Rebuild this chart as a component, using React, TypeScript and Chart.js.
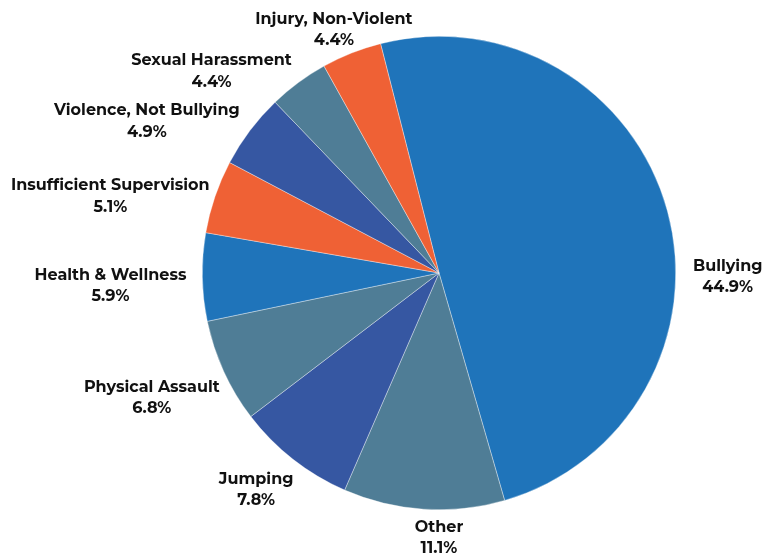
import React, { useEffect, useRef } from "react";
import { Chart, registerables } from "chart.js";

Chart.register(...registerables);

// Categories in clockwise order, starting with Bullying
const categories = [
  "Bullying",
  "Other",
  "Jumping",
  "Physical Assault",
  "Health & Wellness",
  "Insufficient Supervision",
  "Violence, Not Bullying",
  "Sexual Harassment",
  "Injury, Non-Violent",
];

// Slice sizes as drawn in the picture (wedge angles)
const sliceValues = [49.5, 11.0, 8.1, 7.1, 6.0, 5.0, 5.1, 4.1, 4.1];

// Percent text as printed on the labels
const percentLabels = ["44.9%", "11.1%", "7.8%", "6.8%", "5.9%", "5.1%", "4.9%", "4.4%", "4.4%"];

const BLUE = "#1f74ba";
const SLATE = "#4f7d96";
const NAVY = "#3657a2";
const ORANGE = "#ef6135";

const sliceColors = [BLUE, SLATE, NAVY, SLATE, BLUE, ORANGE, NAVY, SLATE, ORANGE];

// Label layout: angle (deg, clockwise from 12 o'clock) and distance beyond pie edge
const labelAngles = [90.6, 180, 220.3, 246.7, 267.9, 283.3, 297.6, 311.7, 336.7];
const labelDistances = [52, 27, 46, 76, 92, 101, 93, 68, 29];

const FONT = "bold 16px Montserrat, Inter, 'Open Sans', sans-serif";
const LINE_GAP = 21.5;

const labelPlugin = {
  id: "outerLabels",
  afterDatasetsDraw(chart: any) {
    const ctx = chart.ctx;
    const meta = chart.getDatasetMeta(0);
    ctx.save();
    ctx.font = FONT;
    ctx.fillStyle = "#111111";
    ctx.textAlign = "center";
    ctx.textBaseline = "middle";
    meta.data.forEach((arc: any, i: number) => {
      const { x, y, outerRadius } = arc.getProps(["x", "y", "outerRadius"], true);
      const a = ((labelAngles[i] - 90) * Math.PI) / 180;
      const r = outerRadius + labelDistances[i];
      const cx = x + Math.cos(a) * r;
      const cy = y + Math.sin(a) * r + 1;
      ctx.fillText(categories[i], cx, cy - LINE_GAP / 2);
      ctx.fillText(percentLabels[i], cx, cy + LINE_GAP / 2);
    });
    ctx.restore();
  },
};

export default function App() {
  const canvasRef = useRef<HTMLCanvasElement | null>(null);

  useEffect(() => {
    const canvas = canvasRef.current;
    if (!canvas) return;
    const chart = new Chart(canvas, {
      type: "pie",
      data: {
        labels: categories,
        datasets: [
          {
            data: sliceValues,
            backgroundColor: sliceColors,
            borderColor: "rgba(255,255,255,0.6)",
            borderWidth: 0.6,
          },
        ],
      },
      options: {
        responsive: false,
        animation: false,
        rotation: -14.3,
        layout: { padding: { left: 202, right: 101, top: 36, bottom: 45 } },
        plugins: {
          legend: { display: false },
          tooltip: { enabled: false },
          title: { display: false },
        },
      },
      plugins: [labelPlugin],
    });
    return () => chart.destroy();
  }, []);

  return (
    <div style={{ position: "fixed", left: 0, top: 0, width: 777, height: 555, background: "#ffffff" }}>
      <canvas ref={canvasRef} width={777} height={555} style={{ display: "block" }} />
    </div>
  );
}
